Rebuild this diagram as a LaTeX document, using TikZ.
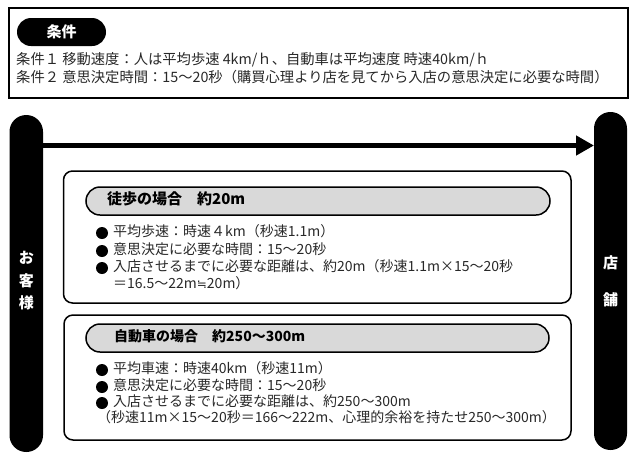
\documentclass[tikz,border=0pt]{standalone}
\usepackage{fontspec}
\setmainfont{Noto Sans CJK JP}
\newfontfamily\djv{DejaVu Sans}
\usetikzlibrary{arrows.meta}
\definecolor{hdrgray}{RGB}{217,217,217}
\definecolor{txt}{RGB}{40,40,40}
\begin{document}
\begin{tikzpicture}[x=1pt,y=-1pt,
  pillv/.style={fill=black, inner sep=0pt, outer sep=0pt},
  framebox/.style={draw, line width=1.5pt, rounded corners=9pt},
  hdr/.style={draw, line width=1.5pt, fill=hdrgray, rounded corners=14pt, inner sep=0pt, outer sep=0pt, minimum height=28pt},
  hdrtxt/.style={anchor=west, inner sep=0pt, font=\fontsize{15}{17}\selectfont\bfseries, text height=0.8em, text depth=0.05em},
  toptxt/.style={anchor=west, inner sep=0pt, text=txt, font=\fontsize{14.3}{16}\selectfont, text height=0.8em, text depth=0.05em},
  bultxt/.style={anchor=west, inner sep=0pt, text=txt, font=\fontsize{14}{16}\selectfont, text height=0.8em, text depth=0.05em},
  bul/.style={circle, fill=black, inner sep=0pt, minimum size=12pt},
  vtxt/.style={text=white, inner sep=0pt, font=\fontsize{15}{17}\selectfont\bfseries}
]
\useasboundingbox (0,0) rectangle (639,459);

% conditions box
\draw[line width=2pt] (9,8) rectangle (627.5,97.5);
\node[fill=black, rounded corners=14pt, minimum width=89pt, minimum height=28pt, inner sep=0pt] (condpill) at (61.5,32) {};
\node[vtxt] (condtxt) at (61.5,32) {条件};
\node[toptxt] (cond1) at (16,61) {条件１ 移動速度：人は平均歩速 4km/ｈ、自動車は平均速度 時速40km/ｈ};
\node[toptxt] (cond2) at (16,79) {条件２ 意思決定時間：15～20秒（購買心理より店を見てから入店の意思決定に必要な時間）};

% side pillars
\node[pillv, minimum width=33.5pt, minimum height=337pt, rounded corners=16.7pt] (cust) at (26.25,283.5) {};
\node[pillv, minimum width=33pt, minimum height=338pt, rounded corners=16.4pt] (store) at (610.5,281) {};
\node[vtxt] (c1) at (26.25,258) {お};
\node[vtxt] (c2) at (26.25,280.5) {客};
\node[vtxt] (c3) at (26.25,303) {様};
\node[vtxt] (s1) at (610.5,263) {店};
\node[vtxt] (s2) at (610.5,300) {舗};

% arrow
\coordinate (ay) at (0,145.5);
\draw[line width=5.5pt, -{Triangle[length=18pt,width=19pt]}] (cust.east |- ay) -- (store.west |- ay);

% walking box
\draw[framebox] (63.5,171) rectangle (571,303);
\node[hdr, minimum width=464pt] (walkhdr) at (318,201) {};
\node[hdrtxt] (walkhdrtxt) at (107,201) {徒歩の場合　約20m};
\node[bul] (wb1) at (102,233) {};
\node[bul] (wb2) at (102,251) {};
\node[bul] (wb3) at (102,268) {};
\node[bultxt] (wt1) at (113,233) {平均歩速：時速４km（秒速1.1m）};
\node[bultxt] (wt2) at (113,251) {意思決定に必要な時間：15～20秒};
\node[bultxt] (wt3) at (113,268) {入店させるまでに必要な距離は、約20m（秒速1.1m×15～20秒};
\node[bultxt] (wt4) at (113,285) {＝16.5～22m{\djv\fontsize{12}{14}\selectfont ≒}20m）};

% car box
\draw[framebox] (64,315) rectangle (571,440);
\node[hdr, minimum width=463pt] (carhdr) at (317.5,338) {};
\node[hdrtxt, font=\fontsize{14}{16}\selectfont\bfseries] (carhdrtxt) at (114,338) {自動車の場合　約250～300m};
\node[bul] (cb1) at (102,370) {};
\node[bul] (cb2) at (102,387) {};
\node[bul] (cb3) at (102,403) {};
\node[bultxt] (ct1) at (113,370) {平均車速：時速40km（秒速11m）};
\node[bultxt] (ct2) at (113,387) {意思決定に必要な時間：15～20秒};
\node[bultxt] (ct3) at (113,403) {入店させるまでに必要な距離は、約250～300m};
\node[bultxt] (ct4) at (97,419) {（秒速11m×15～20秒＝166～222m、心理的余裕を持たせ250～300m）};
\end{tikzpicture}
\end{document}
